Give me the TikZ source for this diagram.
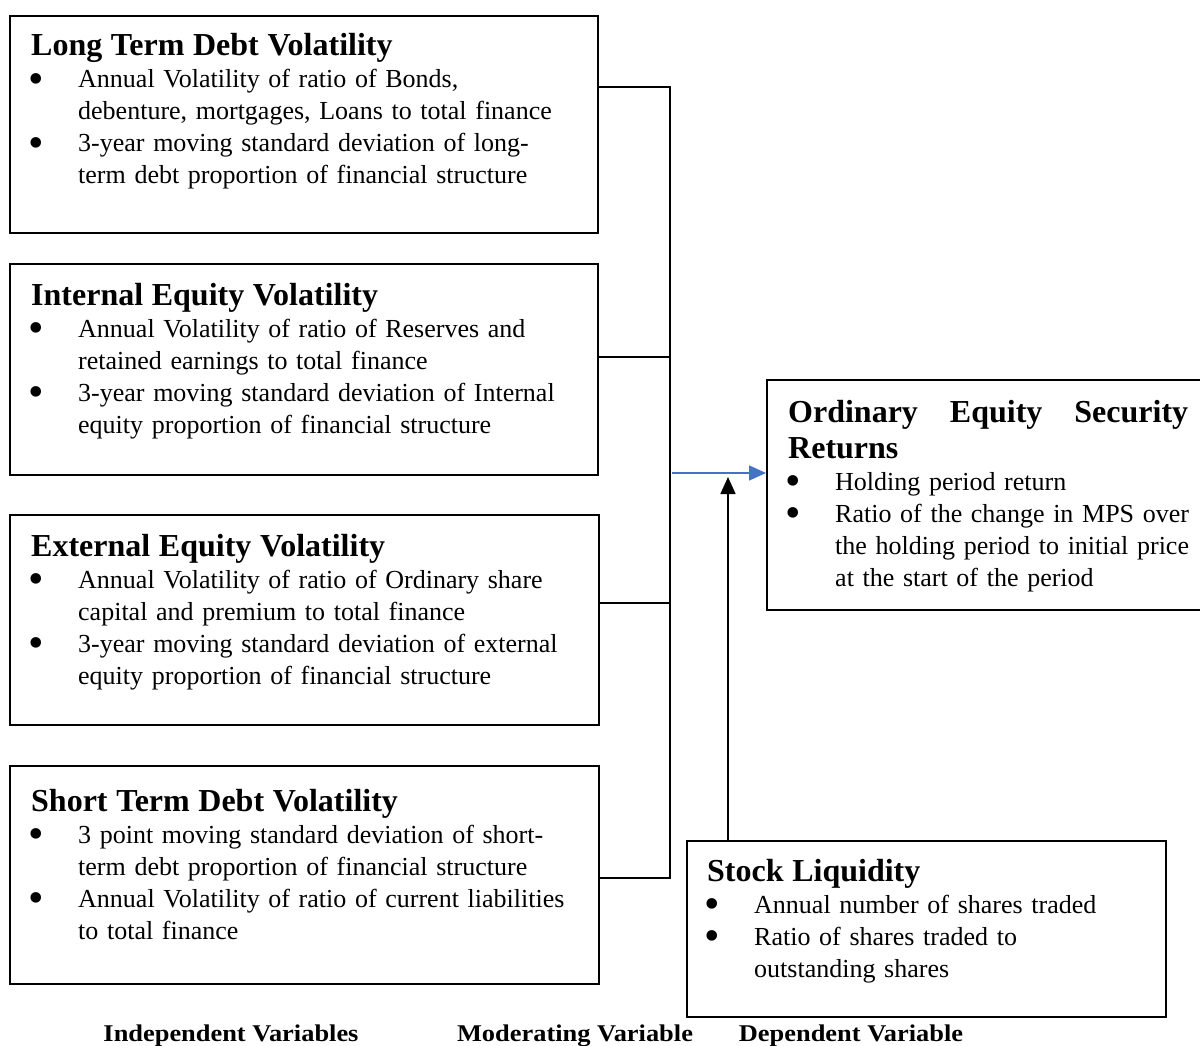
\documentclass[tikz,border=0pt]{standalone}
\usepackage{fontspec}
\setmainfont{Liberation Serif}
\usetikzlibrary{arrows.meta}
\definecolor{wordblue}{RGB}{68,114,196}
\newcommand{\bitem}{\par\hangindent=47pt\hangafter=1\noindent\makebox[47pt][l]{\hspace{-2.7pt}\smash{\raisebox{-5.6pt}{\scalebox{1.7}{\textbullet}}}}}
\newcommand{\boxtitle}[1]{{\fontsize{32}{36}\selectfont\bfseries #1\par}}
\tikzset{
  varbox/.style={draw, line width=1.6pt, anchor=north west, inner sep=0pt},
  vartext/.style={anchor=base west, inner sep=0pt, align=left, font=\fontsize{26}{32}\selectfont},
  link/.style={line width=1.6pt},
  arr/.style={line width=1.6pt, -{Triangle[length=17pt,width=15pt]}},
  caption/.style={anchor=base, font=\fontsize{24}{28}\selectfont\bfseries}
}

\begin{document}
\begin{tikzpicture}[x=1pt,y=-1pt]
\useasboundingbox (0,0) rectangle (1200,1046);
\node[varbox, minimum width=588pt, minimum height=217pt] (ltd) at (9,15) {};
\node[varbox, minimum width=588pt, minimum height=211pt] (ieq) at (9,263) {};
\node[varbox, minimum width=589pt, minimum height=210pt] (eeq) at (9,514) {};
\node[varbox, minimum width=589pt, minimum height=218pt] (std) at (9,765) {};
\node[varbox, minimum width=440pt, minimum height=230pt] (ret) at (766,379) {};
\node[varbox, minimum width=479pt, minimum height=176pt] (liq) at (686,840) {};

\node[vartext, text width=570pt] (ltdtxt) at (31,56) {\boxtitle{Long Term Debt Volatility}\bitem Annual Volatility of ratio of Bonds,\newline debenture, mortgages, Loans to total finance\bitem 3-year moving standard deviation of long-\newline term debt proportion of financial structure\par};
\node[vartext, text width=570pt] (ieqtxt) at (31,305) {\boxtitle{Internal Equity Volatility}\bitem Annual Volatility of ratio of Reserves and\newline retained earnings to total finance\bitem 3-year moving standard deviation of Internal\newline equity proportion of financial structure\par};
\node[vartext, text width=570pt] (eeqtxt) at (31,556) {\boxtitle{External Equity Volatility}\bitem Annual Volatility of ratio of Ordinary share\newline capital and premium to total finance\bitem 3-year moving standard deviation of external\newline equity proportion of financial structure\par};
\node[vartext, text width=570pt] (stdtxt) at (31,811) {\boxtitle{Short Term Debt Volatility}\bitem 3 point moving standard deviation of short-\newline term debt proportion of financial structure\bitem Annual Volatility of ratio of current liabilities\newline to total finance\par};
\node[vartext, text width=430pt] (rettxt) at (788,422) {\boxtitle{\hbox to 400pt{Ordinary\hfill Equity\hfill Security}\newline Returns}\bitem Holding period return\bitem Ratio of the change in MPS over\newline the holding period to initial price\newline at the start of the period\par};
\node[vartext, text width=440pt] (liqtxt) at (707,881) {\boxtitle{Stock Liquidity}\bitem Annual number of shares traded\bitem Ratio of shares traded to\newline outstanding shares\par};

\coordinate (b1) at (670,87);
\coordinate (b2) at (670,357);
\coordinate (b3) at (670,603);
\coordinate (b4) at (670,878);
\draw[link] (b1 -| ltd.east) -- (b1) -- (b4) -- (b4 -| std.east);
\draw[link] (b2 -| ieq.east) -- (b2);
\draw[link] (b3 -| eeq.east) -- (b3);

\coordinate (hub) at (672,473);
\draw[arr, wordblue] (hub) -- (hub -| ret.west);
\coordinate (meet) at (728,477);
\draw[arr] (meet |- liq.north) -- (meet);

\node[caption] (indep) at (231,1041) {\scalebox{1.1}[1]{Independent Variables}};
\node[caption] (moder) at (575,1041) {\scalebox{1.1}[1]{Moderating Variable}};
\node[caption] (dep) at (851,1041) {\scalebox{1.1}[1]{Dependent Variable}};
\end{tikzpicture}
\end{document}
